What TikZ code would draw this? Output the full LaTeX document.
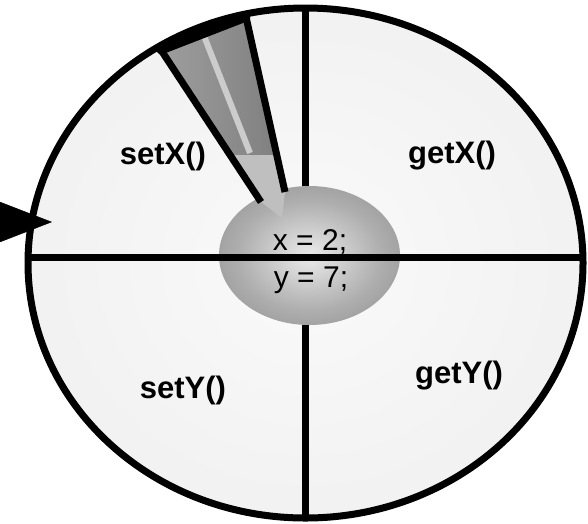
\documentclass[tikz,border=0pt]{standalone}
\usepackage{fontspec}
\setmainfont{Liberation Sans}
\usetikzlibrary{shapes.geometric,arrows.meta,calc}
\pgfdeclareradialshading{objshade}{\pgfpoint{0bp}{0bp}}{color(0bp)=(black!2); color(30bp)=(black!6); color(50bp)=(black!14)}
\pgfdeclareradialshading{stateshade}{\pgfpoint{0bp}{0bp}}{color(0bp)=(black!8); color(20bp)=(black!32); color(50bp)=(black!56)}

\begin{document}
\begin{tikzpicture}[x=1pt, y=-1pt, every node/.style={font=\fontsize{30}{36}\selectfont},
  method/.style={font=\fontsize{31}{36}\selectfont\bfseries, anchor=base},
  edge/.style={line width=7pt}]
\useasboundingbox (0,0) rectangle (588,523);
\node[ellipse, shade, shading=objshade, minimum width=555pt, minimum height=510pt, inner sep=0pt] (obj) at (305.5,263) {};
\node[ellipse, shade, shading=stateshade, minimum width=181pt, minimum height=139pt, inner sep=0pt] (state) at (309.5,255.5) {};
\node[anchor=base] (xval) at (310,250) {x = 2;};
\node[anchor=base] (yval) at (311,287) {y = 7;};
% pencil
\shade[left color=black!38, right color=black!50] (161,50) -- (246,17) -- (277,155) -- (230,155) -- cycle;
\fill[black!25] (230,155) -- (277,155) -- (285,192) -- (282,218) -- (261,202) -- cycle;
\draw[black!20, line width=6pt] (204,36) -- (250,153);
\draw[edge] (161,50) -- (261,202); \draw[edge] (246,17) -- (285,192); \draw[line width=9pt, line cap=round] (161,50) -- (246,17);
\draw[edge] ($(obj.west)+(0,-6)$) -- ($(obj.east)+(0,-6)$);
\draw[edge] (obj.north) -- (obj.north |- state.north); \draw[edge] (obj.south |- state.south) -- (obj.south);
\draw[edge] (obj.center) ellipse [x radius=277.5pt, y radius=255pt];
\node[method] (setx) at (163,164) {setX()};
\node[method] (getx) at (452,163) {getX()};
\node[method] (sety) at (183,398) {setY()};
\node[method] (gety) at (459,383) {getY()};
\coordinate (in) at (-10,222);
\coordinate (tip) at (52,222);
\draw[-{Triangle[length=62pt,width=48pt]}] (in) -- (tip);
\end{tikzpicture}
\end{document}
